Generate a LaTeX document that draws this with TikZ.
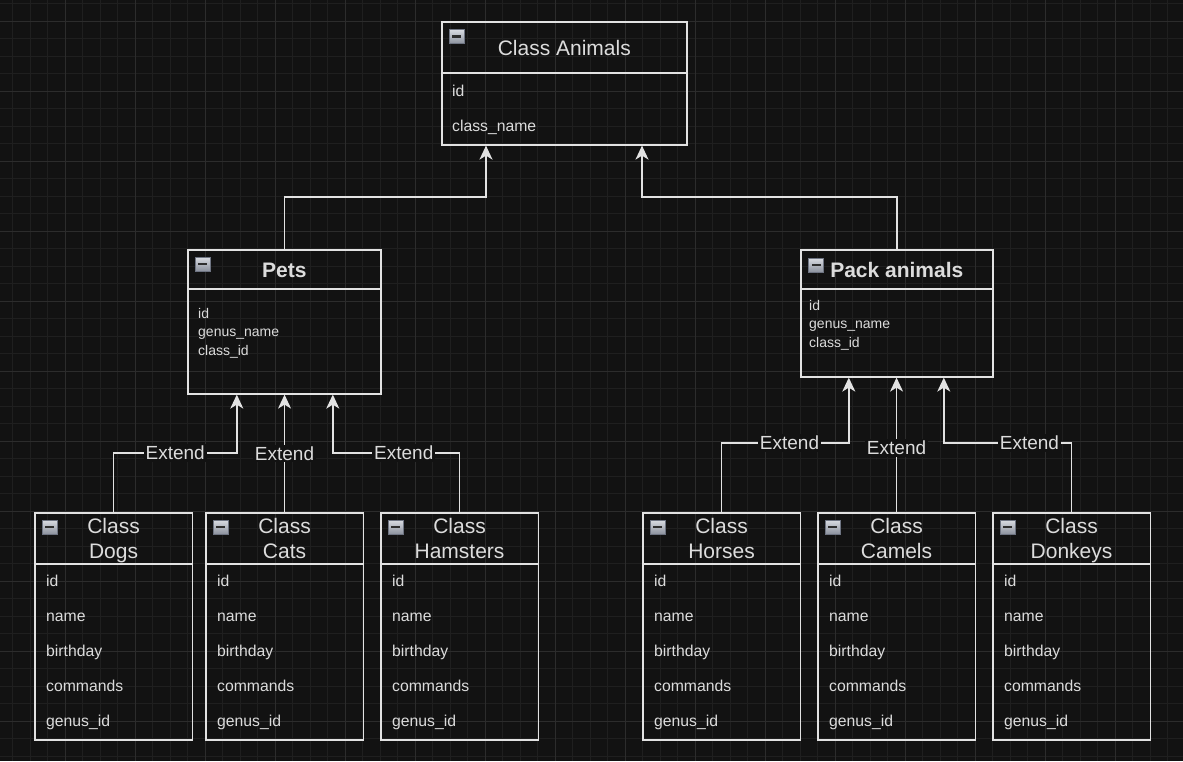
\documentclass[tikz,border=0pt]{standalone}
\usepackage{fontspec}
\setmainfont{Liberation Sans}
\usetikzlibrary{arrows.meta,calc}
\definecolor{bg}{HTML}{121212}
\definecolor{gminor}{HTML}{1F1F1F}
\definecolor{gmajor}{HTML}{2C2C2C}
\definecolor{linec}{HTML}{E2E2E2}
\definecolor{txt}{HTML}{DCDCDC}
\definecolor{iconhi}{HTML}{D9DCE2}
\definecolor{iconlo}{HTML}{8C929E}
\definecolor{iconbd}{HTML}{6E7482}
\definecolor{iconbar}{HTML}{2E2E2E}
\newcommand\childbox[3]{%
  \node[box, minimum width=157.5, minimum height=227] (#1) at (#2,512) {};
  \draw[sep] ($(#1.north west)+(0,52)$) -- ($(#1.north east)+(0,52)$);
  \node[icon] (#1-icon) at ($(#1.north west)+(15.5,15)$) {};
  \node[title] (#1-title) at ($(#1.north)+(0,29)$) {\strut Class\\\strut #3};
  \node[attr] (#1-a1) at ($(#1.north west)+(12,69)$) {id};
  \node[attr] (#1-a2) at ($(#1.north west)+(12,104)$) {name};
  \node[attr] (#1-a3) at ($(#1.north west)+(12,139)$) {birthday};
  \node[attr] (#1-a4) at ($(#1.north west)+(12,174)$) {commands};
  \node[attr] (#1-a5) at ($(#1.north west)+(12,209)$) {genus\_id};
}
\begin{document}
\begin{tikzpicture}[x=1pt,y=-1pt,
  box/.style={draw=linec, line width=1.6pt, anchor=north west, inner sep=0pt},
  sep/.style={draw=linec, line width=1.6pt},
  title/.style={text=txt, font=\fontsize{21}{25}\selectfont, align=center, inner sep=0pt},
  stitle/.style={text=txt, font=\fontsize{21}{25}\selectfont, inner sep=0pt, text height=15pt, text depth=0pt},
  btitle/.style={text=txt, font=\bfseries\fontsize{21}{25}\selectfont, inner sep=0pt, text height=15pt, text depth=0pt},
  attr/.style={text=txt, font=\fontsize{15.75}{18}\selectfont, anchor=west, inner sep=0pt, text height=11.3pt, text depth=0pt},
  sattr/.style={text=txt, font=\fontsize{14}{16}\selectfont, anchor=west, inner sep=0pt, text height=10pt, text depth=0pt},
  arr/.style={draw=linec, line width=1.6pt, -{Stealth[length=14pt,width=13pt,inset=4pt]}},
  ext/.style={fill=bg, text=txt, font=\fontsize{19}{21}\selectfont, inner sep=2pt, text height=13.6pt, text depth=0pt},
  icon/.style={draw=iconbd, line width=0.8pt, minimum width=15, minimum height=14, inner sep=0pt,
    top color=iconhi, bottom color=iconlo,
    path picture={\fill[iconbar] ($(path picture bounding box.west)+(3,-1.3)$) rectangle ($(path picture bounding box.east)+(-3,1.3)$);}}
]
\fill[bg] (0,0) rectangle (1183,761);
\useasboundingbox (0,0) rectangle (1183,761);
% grid
\foreach \i in {0,...,67} {\draw[gminor, line width=0.8pt] (12.5+17.5*\i,0) -- (12.5+17.5*\i,761);}
\foreach \i in {0,...,43} {\draw[gminor, line width=0.8pt] (0,3.5+17.5*\i) -- (1183,3.5+17.5*\i);}
\foreach \i in {0,...,16} {\draw[gmajor, line width=0.8pt] (65+70*\i,0) -- (65+70*\i,761);}
\foreach \i in {0,...,10} {\draw[gmajor, line width=0.8pt] (0,21+70*\i) -- (1183,21+70*\i);}

% Class Animals
\node[box, minimum width=245, minimum height=123] (animals) at (441,21) {};
\draw[sep] ($(animals.north west)+(0,52)$) -- ($(animals.north east)+(0,52)$);
\node[icon] (animals-icon) at ($(animals.north west)+(15.5,15.5)$) {};
\node[stitle] (animals-title) at ($(animals.north)+(0,26.5)$) {Class Animals};
\node[attr] (animals-a1) at ($(animals.north west)+(11,70)$) {id};
\node[attr] (animals-a2) at ($(animals.north west)+(11,105)$) {class\_name};

% Pets
\node[box, minimum width=193, minimum height=144] (pets) at (187,249) {};
\draw[sep] ($(pets.north west)+(0,40)$) -- ($(pets.north east)+(0,40)$);
\node[icon] (pets-icon) at ($(pets.north west)+(15.5,15)$) {};
\node[btitle] (pets-title) at ($(pets.north)+(0,21)$) {Pets};
\node[sattr] (pets-a1) at ($(pets.north west)+(11,64)$) {id};
\node[sattr] (pets-a2) at ($(pets.north west)+(11,82.5)$) {genus\_name};
\node[sattr] (pets-a3) at ($(pets.north west)+(11,101)$) {class\_id};

% Pack animals
\node[box, minimum width=192, minimum height=127] (pack) at (800,249) {};
\draw[sep] ($(pack.north west)+(0,40)$) -- ($(pack.north east)+(0,40)$);
\node[icon] (pack-icon) at ($(pack.north west)+(16,16)$) {};
\node[btitle] (pack-title) at ($(pack.north)+(0,21)$) {Pack animals};
\node[sattr] (pack-a1) at ($(pack.north west)+(9,56)$) {id};
\node[sattr] (pack-a2) at ($(pack.north west)+(9,74.5)$) {genus\_name};
\node[sattr] (pack-a3) at ($(pack.north west)+(9,93)$) {class\_id};

% children
\childbox{dogs}{34}{Dogs}
\childbox{cats}{205}{Cats}
\childbox{hamsters}{380}{Hamsters}
\childbox{horses}{642}{Horses}
\childbox{camels}{817}{Camels}
\childbox{donkeys}{992}{Donkeys}

% connector end points
\coordinate (animL) at ($(animals.south west)+(45,0)$);
\coordinate (animR) at ($(animals.south west)+(201,0)$);
\coordinate (petsL) at ($(pets.south)+(-47.5,0)$);
\coordinate (petsR) at ($(pets.south)+(48.5,0)$);
\coordinate (packL) at ($(pack.south)+(-48,0)$);
\coordinate (packR) at ($(pack.south)+(47,0)$);

\draw[arr] (pets.north) -- ++(0,-52) -| (animL);
\draw[arr] (pack.north) -- ++(0,-52) -| (animR);

\draw[arr] (dogs.north) -- ++(0,-59) -| node[ext, pos=0.25] (ext1) {Extend} (petsL);
\draw[arr] (cats.north) -- node[ext, pos=0.5] (ext2) {Extend} (cats.north |- pets.south);
\draw[arr] (hamsters.north) -- ++(0,-59) -| node[ext, pos=0.22] (ext3) {Extend} (petsR);
\draw[arr] (horses.north) -- ++(0,-69) -| node[ext, pos=0.267] (ext4) {Extend} (packL);
\draw[arr] (camels.north) -- node[ext, pos=0.478] (ext5) {Extend} (camels.north |- pack.south);
\draw[arr] (donkeys.north) -- ++(0,-69) -| node[ext, pos=0.165] (ext6) {Extend} (packR);
\end{tikzpicture}
\end{document}
